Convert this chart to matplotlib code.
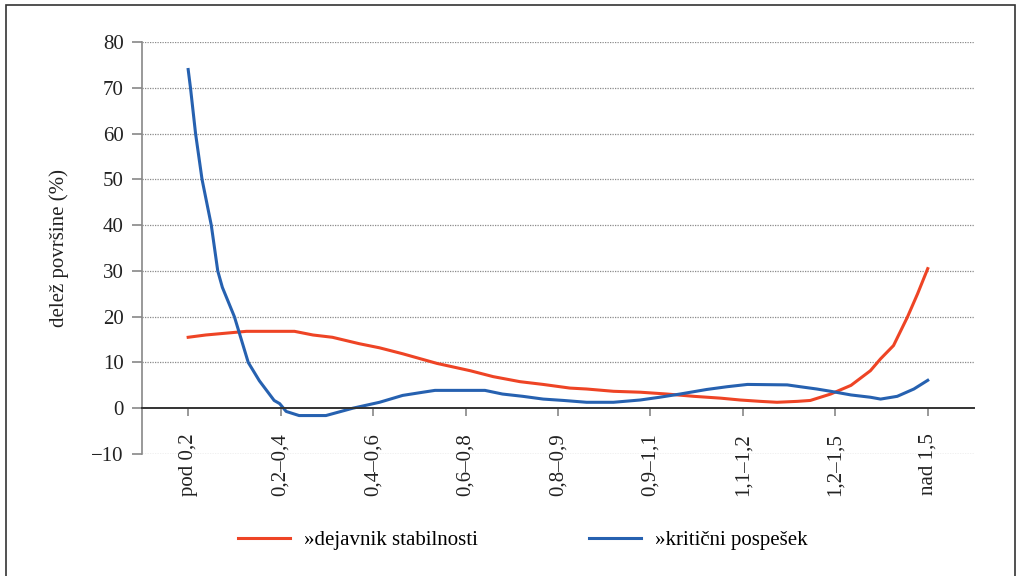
import matplotlib.pyplot as plt
from matplotlib.patches import Rectangle

plt.rcParams['font.family'] = ['Liberation Serif', 'DejaVu Serif']

#category labels on the x axis
categories = ['pod 0,2', '0,2–0,4', '0,4–0,6', '0,6–0,8', '0,8–0,9',
              '0,9–1,1', '1,1–1,2', '1,2–1,5', 'nad 1,5']

#red line, positions are in category units
red_x = [0.0, 0.19, 0.41, 0.63, 1.15, 1.35, 1.56, 1.85, 2.07, 2.32, 2.69,
         3.05, 3.30, 3.59, 3.84, 4.13, 4.31, 4.60, 4.89, 5.18, 5.47, 5.76,
         5.97, 6.19, 6.37, 6.59, 6.73, 6.95, 7.17, 7.38, 7.49, 7.63, 7.78,
         7.89, 8.0]
red_y = [15.5, 16.0, 16.4, 16.8, 16.8, 16.0, 15.5, 14.1, 13.2, 11.9, 9.8,
         8.2, 6.9, 5.8, 5.2, 4.4, 4.2, 3.7, 3.5, 3.1, 2.6, 2.2,
         1.8, 1.5, 1.3, 1.5, 1.7, 3.1, 5.0, 8.2, 10.8, 13.7, 19.9,
         25.0, 30.5]

#blue line
blue_x = [0.0, 0.025, 0.08, 0.15, 0.25, 0.32, 0.37, 0.50, 0.65, 0.77, 0.93,
          0.99, 1.06, 1.20, 1.49, 1.78, 2.07, 2.32, 2.54, 2.67, 3.21, 3.40,
          3.62, 3.84, 4.06, 4.31, 4.60, 4.89, 5.10, 5.32, 5.61, 5.83, 6.05,
          6.48, 6.62, 6.80, 6.95, 7.17, 7.38, 7.49, 7.67, 7.85, 8.0]
blue_y = [74, 70, 60, 50, 40, 30, 26.4, 20, 10, 6, 1.7,
          1.0, -0.7, -1.6, -1.6, 0, 1.3, 2.8, 3.5, 3.9, 3.9, 3.1,
          2.6, 2.0, 1.7, 1.3, 1.3, 1.8, 2.4, 3.1, 4.1, 4.7, 5.2,
          5.1, 4.7, 4.2, 3.7, 2.9, 2.4, 2.0, 2.6, 4.2, 6.1]

yticks = [-10, 0, 10, 20, 30, 40, 50, 60, 70, 80]

fig = plt.figure(figsize=(10.19, 5.76), dpi=100)
ax = fig.add_axes([0.1393, 0.2118, 0.8165, 0.7152])

#the frame around the whole figure
fig.patches.append(Rectangle((0.006, -0.05), 0.99, 1.041, transform=fig.transFigure,
                             fill=False, edgecolor='#333333', linewidth=1.2))

ax.plot(red_x, red_y, color='#EE4425', linewidth=2.2, label='»dejavnik stabilnosti')
ax.plot(blue_x, blue_y, color='#2661B0', linewidth=2.2, label='»kritični pospešek')

ax.set_xlim(-0.5, 8.5)
ax.set_ylim(-10, 80)

ax.spines['top'].set_visible(False)
ax.spines['right'].set_visible(False)
ax.spines['left'].set_color('#888888')
ax.spines['left'].set_linewidth(1.2)
ax.spines['bottom'].set_position(('data', 0))
ax.spines['bottom'].set_color('#333333')
ax.spines['bottom'].set_linewidth(1.4)

ax.tick_params(axis='y', length=7, width=1.2, color='#888888', pad=6,
               labelsize=15, labelcolor='#222222')
ax.tick_params(axis='x', length=6, width=1.2, color='#888888', pad=12,
               labelsize=15, labelcolor='#222222')

ax.set_yticks(yticks)
ax.set_yticklabels([str(t).replace('-', '\u2212') for t in yticks])
ax.set_xticks(range(len(categories)))
ax.set_xticklabels(categories)
plt.setp(ax.get_xticklabels(), rotation=90, ha='center', va='top')

#dotted gridlines
for t in yticks:
    if t != 0:
        ax.axhline(t, color='#8a8a8a', linestyle=(0, (1, 1)), linewidth=0.9, zorder=0)

ax.set_ylabel('delež površine (%)', fontsize=15, color='#222222', labelpad=16)

fig.legend(loc='center', bbox_to_anchor=(0.513, 0.0625), ncol=2, frameon=False,
           fontsize=15, handlelength=2.5, handletextpad=0.7, columnspacing=5.3)

plt.savefig('out.png')
